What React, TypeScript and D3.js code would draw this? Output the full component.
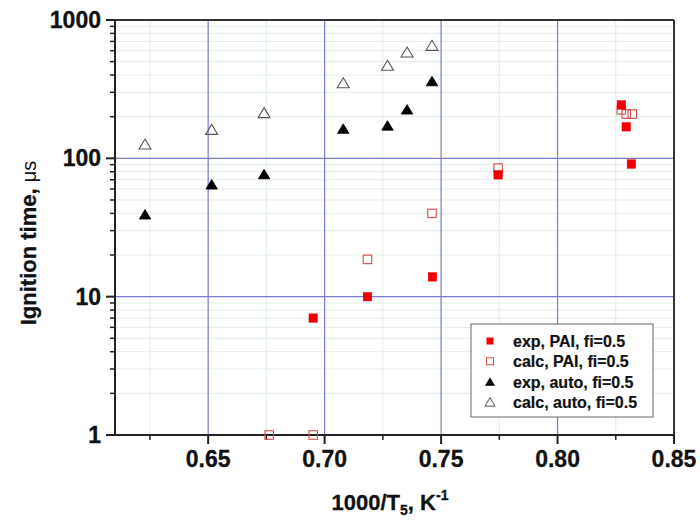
import React from "react";
import * as d3 from "d3";

const expPAI_x = [0.6951, 0.7184, 0.7463, 0.7745, 0.8274, 0.8295, 0.8317];
const expPAI_y = [7, 10, 13.9, 76, 243, 169, 91];
const calcPAI_x = [0.6762, 0.6951, 0.7184, 0.7461, 0.7745, 0.8274, 0.8295, 0.8321];
const calcPAI_y = [1, 1, 18.6, 40, 85, 224, 209, 209];
const expAuto_x = [0.6229, 0.6515, 0.674, 0.708, 0.727, 0.7354, 0.7461];
const expAuto_y = [39.4, 64.9, 77, 164, 173, 226, 362];
const calcAuto_x = [0.6229, 0.6515, 0.674, 0.708, 0.727, 0.7354, 0.7461];
const calcAuto_y = [127, 162, 214, 352, 471, 587, 656];

const xMajor = [0.65, 0.7, 0.75, 0.8, 0.85];
const xMajorLabels = ["0.65", "0.70", "0.75", "0.80", "0.85"];
const xMinor = [0.625, 0.675, 0.725, 0.775, 0.825];
const yMajor = [1, 10, 100, 1000];
const yMajorLabels = ["1", "10", "100", "1000"];
const legendLabels = ["exp, PAI, fi=0.5", "calc, PAI, fi=0.5", "exp, auto, fi=0.5", "calc, auto, fi=0.5"];

const L = 115, R = 674, T = 20, B = 435;
const FONT = "'Liberation Sans', Arial, Helvetica, sans-serif";

export default function App() {
  const x = d3.scaleLinear().domain([0.61, 0.85]).range([L, R]);
  const y = d3.scaleLog().domain([1, 1000]).range([B, T]);

  const yMinor: number[] = [];
  [1, 10, 100].forEach((d) => {
    for (let k = 2; k <= 9; k++) yMinor.push(d * k);
  });

  const tri = (cx: number, cy: number, w = 11.5, h = 9.5) =>
    `M${cx - w / 2},${cy + h / 2}L${cx + w / 2},${cy + h / 2}L${cx},${cy - h / 2}Z`;

  const sq = 8.5;

  return (
    <svg width={700} height={520} style={{ position: "absolute", left: 0, top: 0, background: "#fff" }} fontFamily={FONT}>
      <rect x={0} y={0} width={700} height={520} fill="#fff" />
      {/* minor grid */}
      {yMinor.map((v) => (
        <line key={"ym" + v} x1={L} x2={R} y1={y(v)} y2={y(v)} stroke="#e2efe2" strokeWidth={1} />
      ))}
      {xMinor.map((v) => (
        <line key={"xm" + v} x1={x(v)} x2={x(v)} y1={T} y2={B} stroke="#e2efe2" strokeWidth={1} />
      ))}
      {/* major grid */}
      {[10, 100].map((v) => (
        <line key={"yM" + v} x1={L} x2={R} y1={y(v)} y2={y(v)} stroke="#7b7bcf" strokeWidth={1.2} />
      ))}
      {[0.65, 0.7, 0.75, 0.8].map((v) => (
        <line key={"xM" + v} x1={x(v)} x2={x(v)} y1={T} y2={B} stroke="#7b7bcf" strokeWidth={1.2} />
      ))}
      {/* frame */}
      <line x1={L} x2={R} y1={T} y2={T} stroke="#333" strokeWidth={2} />
      <line x1={R} x2={R} y1={T} y2={B} stroke="#333" strokeWidth={2} />
      <line x1={L} x2={L} y1={T} y2={B + 1} stroke="#222" strokeWidth={2} />
      <line x1={L - 1} x2={R + 1} y1={B} y2={B} stroke="#222" strokeWidth={2} />
      {/* y ticks */}
      {yMajor.map((v, i) => (
        <g key={"yt" + v}>
          <line x1={L - 9} x2={L} y1={y(v)} y2={y(v)} stroke="#222" strokeWidth={2} />
          <text x={101} y={y(v) + 8} textAnchor="end" fontSize={23} fontWeight="bold" fill="#111" stroke="#111" strokeWidth={0.3}>
            {yMajorLabels[i]}
          </text>
        </g>
      ))}
      {yMinor.map((v) => (
        <line key={"ytm" + v} x1={L - 5} x2={L} y1={y(v)} y2={y(v)} stroke="#222" strokeWidth={1.5} />
      ))}
      {/* x ticks */}
      {xMajor.map((v, i) => (
        <g key={"xt" + v}>
          <line x1={x(v)} x2={x(v)} y1={B} y2={B + 9} stroke="#222" strokeWidth={2} />
          <text x={x(v)} y={467} textAnchor="middle" fontSize={23} fontWeight="bold" fill="#111" stroke="#111" strokeWidth={0.3}>
            {xMajorLabels[i]}
          </text>
        </g>
      ))}
      {xMinor.map((v) => (
        <line key={"xtm" + v} x1={x(v)} x2={x(v)} y1={B} y2={B + 5} stroke="#222" strokeWidth={1.5} />
      ))}
      {/* axis titles */}
      <text x={390} y={510} textAnchor="middle" fontSize={22} fontWeight="bold" fill="#111" stroke="#111" strokeWidth={0.3}>
        1000/T<tspan fontSize={14} dy={5}>5</tspan>
        <tspan dy={-5}>, K</tspan>
        <tspan fontSize={14} dy={-10}>-1</tspan>
      </text>
      <text
        transform={`translate(36,243) rotate(-90)`}
        textAnchor="middle"
        fontSize={22}
        fontWeight="bold"
        fill="#111"
        stroke="#111"
        strokeWidth={0.3}
      >
        Ignition time, <tspan fontWeight="normal" strokeWidth={0} fontSize={20}>μs</tspan>
      </text>
      {/* data: calc auto */}
      {calcAuto_x.map((v, i) => (
        <path key={"ca" + i} d={tri(x(v), y(calcAuto_y[i]), 12, 10)} fill="none" stroke="#555" strokeWidth={1.1} />
      ))}
      {expAuto_x.map((v, i) => (
        <path key={"ea" + i} d={tri(x(v), y(expAuto_y[i]))} fill="#000" stroke="#000" strokeWidth={0.8} />
      ))}
      {calcPAI_x.map((v, i) => (
        <rect
          key={"cp" + i}
          x={x(v) - sq / 2}
          y={y(calcPAI_y[i]) - sq / 2}
          width={sq}
          height={sq}
          fill="none"
          stroke="#d24a4a"
          strokeWidth={1.1}
        />
      ))}
      {expPAI_x.map((v, i) => (
        <rect
          key={"ep" + i}
          x={x(v) - sq / 2}
          y={y(expPAI_y[i]) - sq / 2}
          width={sq}
          height={sq}
          fill="#ee0000"
          stroke="#ee0000"
          strokeWidth={0.5}
        />
      ))}
      {/* legend */}
      <rect x={471} y={324} width={182} height={93} fill="#fff" stroke="#666" strokeWidth={1} />
      {legendLabels.map((lab, i) => {
        const cy = 341 + i * 20.3;
        let sym;
        if (i === 0) sym = <rect x={486.5} y={cy - 3.5} width={7} height={7} fill="#ee0000" />;
        else if (i === 1) sym = <rect x={486.5} y={cy - 3.5} width={7} height={7} fill="none" stroke="#d24a4a" strokeWidth={1} />;
        else if (i === 2) sym = <path d={tri(490, cy, 10, 8.5)} fill="#000" />;
        else sym = <path d={tri(490, cy, 10, 8.5)} fill="none" stroke="#555" strokeWidth={1} />;
        return (
          <g key={"lg" + i}>
            {sym}
            <text x={513} y={cy + 6} fontSize={16} fontWeight="bold" fill="#111" stroke="#111" strokeWidth={0.2}>
              {lab}
            </text>
          </g>
        );
      })}
    </svg>
  );
}
